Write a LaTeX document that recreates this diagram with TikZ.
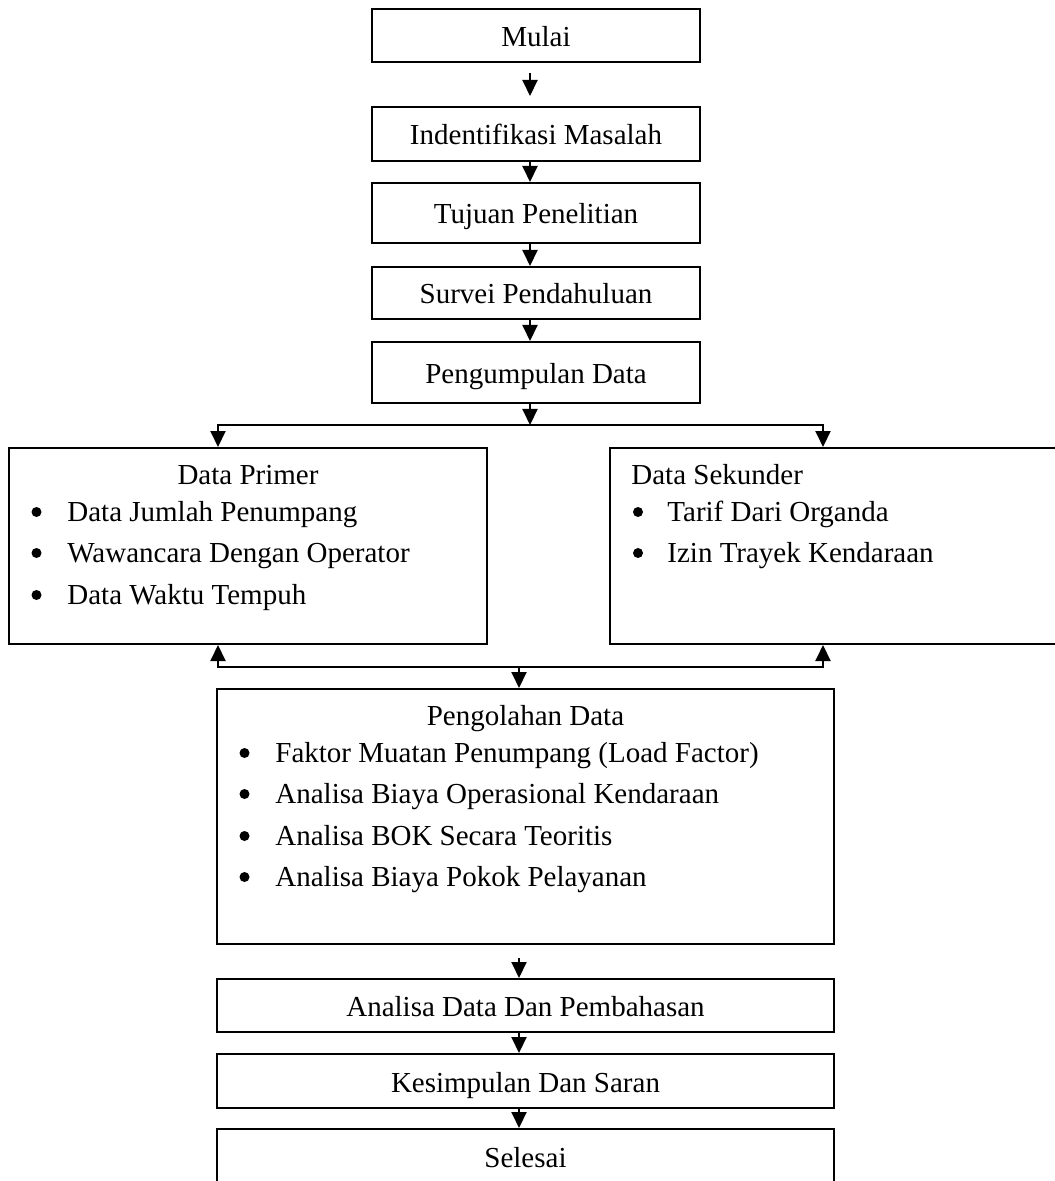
\documentclass[tikz,border=0pt]{standalone}
\usepackage{fontspec}
\setmainfont{Liberation Serif}
\usepackage{tikz}
\usetikzlibrary{arrows.meta}

\begin{document}
\begin{tikzpicture}[x=0.5pt,y=-0.5pt]
		\tikzstyle{every node}=[font=\fontsize{14.5}{17}\selectfont]
		\tikzstyle{kotak}=[draw, line width=1pt, inner sep=0pt, text height=12.5pt, text depth=1.5pt]
		\tikzstyle{daftar}=[draw, line width=1pt, inner sep=0pt]
		\tikzstyle{judul}=[anchor=base, inner sep=0pt]
		\tikzstyle{butir}=[anchor=base west, inner sep=0pt]
		\tikzstyle{alur}=[-{Triangle[length=8pt,width=7.5pt]}, line width=1pt]

		\useasboundingbox (0,0) rectangle (1054,1181);

		% tahap awal
		\node [kotak, minimum width=164pt, minimum height=26.5pt] (mulai) at (536,35.5) {Mulai};
		\node [kotak, minimum width=164pt, minimum height=27pt] (identifikasi) at (536,134) {Indentifikasi Masalah};
		\node [kotak, minimum width=164pt, minimum height=30pt] (tujuan) at (536,213) {Tujuan Penelitian};
		\node [kotak, minimum width=164pt, minimum height=26pt] (survei) at (536,293) {Survei Pendahuluan};
		\node [kotak, minimum width=164pt, minimum height=30.5pt] (pengumpulan) at (536,372.5) {Pengumpulan Data};

		% data primer dan sekunder
		\node [daftar, minimum width=239pt, minimum height=98pt] (primer) at (248,546) {};
		\node [judul] (primer-judul) at ([shift={(0,37)}]primer.north) {Data Primer};
		\node [butir] (primer-1) at ([shift={(59,74)}]primer.north west) {Data Jumlah Penumpang};
		\node [butir] (primer-2) at ([shift={(59,115)}]primer.north west) {Wawancara Dengan Operator};
		\node [butir] (primer-3) at ([shift={(59,157)}]primer.north west) {Data Waktu Tempuh};

		\node [daftar, minimum width=225pt, minimum height=98pt] (sekunder) at (835,546) {};
		\node [judul, anchor=base west] (sekunder-judul) at ([shift={(22,37)}]sekunder.north west) {Data Sekunder};
		\node [butir] (sekunder-1) at ([shift={(58,74)}]sekunder.north west) {Tarif Dari Organda};
		\node [butir] (sekunder-2) at ([shift={(58,115)}]sekunder.north west) {Izin Trayek Kendaraan};

		% pengolahan
		\node [daftar, minimum width=308.5pt, minimum height=127.5pt] (pengolahan) at (525.5,816.5) {};
		\node [judul] (olah-judul) at ([shift={(0,37)}]pengolahan.north) {Pengolahan Data};
		\node [butir] (olah-1) at ([shift={(59,74)}]pengolahan.north west) {Faktor Muatan Penumpang (Load Factor)};
		\node [butir] (olah-2) at ([shift={(59,115)}]pengolahan.north west) {Analisa Biaya Operasional Kendaraan};
		\node [butir] (olah-3) at ([shift={(59,157)}]pengolahan.north west) {Analisa BOK Secara Teoritis};
		\node [butir] (olah-4) at ([shift={(59,198)}]pengolahan.north west) {Analisa Biaya Pokok Pelayanan};

		% titik butir
		\fill ([shift={(-30.5,-9)}]primer-1.base west) circle (2.5pt);
		\fill ([shift={(-30.5,-9)}]primer-2.base west) circle (2.5pt);
		\fill ([shift={(-30.5,-9)}]primer-3.base west) circle (2.5pt);
		\fill ([shift={(-29,-9)}]sekunder-1.base west) circle (2.5pt);
		\fill ([shift={(-29,-9)}]sekunder-2.base west) circle (2.5pt);
		\fill ([shift={(-30.5,-9)}]olah-1.base west) circle (2.5pt);
		\fill ([shift={(-30.5,-9)}]olah-2.base west) circle (2.5pt);
		\fill ([shift={(-30.5,-9)}]olah-3.base west) circle (2.5pt);
		\fill ([shift={(-30.5,-9)}]olah-4.base west) circle (2.5pt);

		% tahap akhir
		\node [kotak, minimum width=308.5pt, minimum height=26.5pt] (analisa) at (525.5,1005.5) {Analisa Data Dan Pembahasan};
		\node [kotak, minimum width=308.5pt, minimum height=27pt] (kesimpulan) at (525.5,1081) {Kesimpulan Dan Saran};
		\node [kotak, minimum width=308.5pt, minimum height=27pt] (selesai) at (525.5,1156) {Selesai};

		% panah
		\draw [alur, shorten <=5pt, shorten >=5pt] ([xshift=-3pt]mulai.south) -- ([xshift=-3pt]identifikasi.north);
		\draw [alur] ([xshift=-3pt]identifikasi.south) -- ([xshift=-3pt]tujuan.north);
		\draw [alur] ([xshift=-3pt]tujuan.south) -- ([xshift=-3pt]survei.north);
		\draw [alur] ([xshift=-3pt]survei.south) -- ([xshift=-3pt]pengumpulan.north);

		\coordinate (cabang) at (530,425);
		\draw [alur] ([xshift=-3pt]pengumpulan.south) -- (cabang);
		\draw [alur] (cabang) -| ([xshift=-15pt]primer.north);
		\draw [alur] (cabang) -| ([xshift=-6pt]sekunder.north);

		\coordinate (gabung) at (519,667);
		\draw [alur] (gabung) -| ([xshift=-15pt]primer.south);
		\draw [alur] (gabung) -| ([xshift=-6pt]sekunder.south);
		\draw [alur] (gabung) -- (gabung |- pengolahan.north);

		\draw [alur, shorten <=6.5pt] ([xshift=-3.25pt]pengolahan.south) -- ([xshift=-3.25pt]analisa.north);
		\draw [alur] ([xshift=-3.25pt]analisa.south) -- ([xshift=-3.25pt]kesimpulan.north);
		\draw [alur] ([xshift=-3.25pt]kesimpulan.south) -- ([xshift=-3.25pt]selesai.north);

	\end{tikzpicture}
\end{document}
